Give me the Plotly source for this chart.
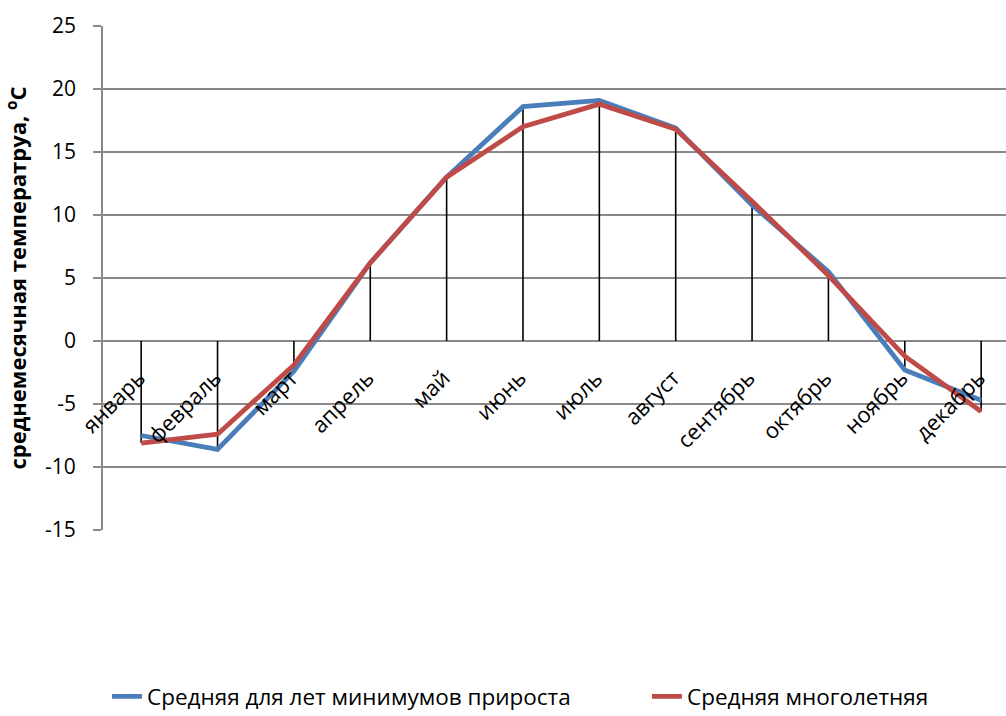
import plotly.graph_objects as go

months = ["январь", "февраль", "март", "апрель", "май", "июнь", "июль",
          "август", "сентябрь", "октябрь", "ноябрь", "декабрь"]
series_min_growth = [-7.5, -8.6, -2.4, 6.2, 13.0, 18.6, 19.1, 16.9, 10.8, 5.5, -2.3, -4.7]
series_longterm = [-8.1, -7.4, -1.9, 6.2, 13.0, 17.0, 18.8, 16.8, 11.1, 5.2, -1.2, -5.6]
name_min_growth = "Средняя для лет минимумов прироста"
name_longterm = "Средняя многолетняя"
y_title = "среднемесячная температруа, <sup>о</sup>С"
y_ticks = [-15, -10, -5, 0, 5, 10, 15, 20, 25]
y_ticktext = ["-15", "-10", "-5", "0", "5", "10", "15", "20", "25"]

FONT = "Open Sans"

# drop lines from the category axis (0) to the furthest point of either series
drop_x, drop_y = [], []
for m, a, b in zip(months, series_min_growth, series_longterm):
    drop_x += [m, m, None]
    drop_y += [min(0, a, b), max(0, a, b), None]

fig = go.Figure()
fig.add_trace(go.Scatter(x=drop_x, y=drop_y, mode="lines",
                         line=dict(color="black", width=1.6),
                         showlegend=False, hoverinfo="skip"))
fig.add_trace(go.Scatter(x=months, y=series_min_growth, mode="lines",
                         name=name_min_growth, legend="legend",
                         line=dict(color="#4a7ebb", width=4.8)))
fig.add_trace(go.Scatter(x=months, y=series_longterm, mode="lines",
                         name=name_longterm, legend="legend2",
                         line=dict(color="#be4b48", width=4.8)))

# category labels sitting just below the category axis (which crosses at 0)
for m in months:
    fig.add_annotation(x=m, y=0, xref="x", yref="y", text=m, showarrow=False,
                       textangle=-45, xanchor="right", yanchor="top",
                       xshift=12, yshift=-19,
                       font=dict(family=FONT, size=22, color="black"))

y_min, y_max = -15, 25
plot_left, plot_right_px = 103, 1006
cat_px = 76.36
x_hi = -0.5 + (plot_right_px - plot_left) / cat_px

legend_common = dict(orientation="h", y=-0.331, yanchor="middle", xanchor="left",
                     font=dict(family=FONT, size=22.5), bgcolor="rgba(0,0,0,0)")

fig.update_layout(
    width=1006, height=716,
    margin=dict(l=103, r=0, t=26, b=186, autoexpand=False),
    paper_bgcolor="white", plot_bgcolor="white",
    font=dict(family=FONT, size=21, color="black"),
    showlegend=True,
    legend=dict(x=0.0044, **legend_common),
    legend2=dict(x=0.6024, **legend_common),
    xaxis=dict(
        type="category", categoryorder="array", categoryarray=months,
        range=[-0.5, x_hi],
        showgrid=False, showline=False, zeroline=False,
        ticks="", showticklabels=False,
    ),
    yaxis=dict(
        range=[y_min, y_max], tickvals=y_ticks, ticktext=y_ticktext,
        showgrid=True, gridcolor="#898989", gridwidth=1.5,
        zeroline=False,
        showline=True, linecolor="#898989", linewidth=1.8,
        ticks="outside", ticklen=8, tickcolor="#898989", tickwidth=1.5,
        ticklabelstandoff=13,
        tickfont=dict(family=FONT, size=21),
        title=dict(text=y_title, font=dict(family=FONT, size=22, weight="bold"),
                   standoff=12),
    ),
)

fig.write_html("out.html")
